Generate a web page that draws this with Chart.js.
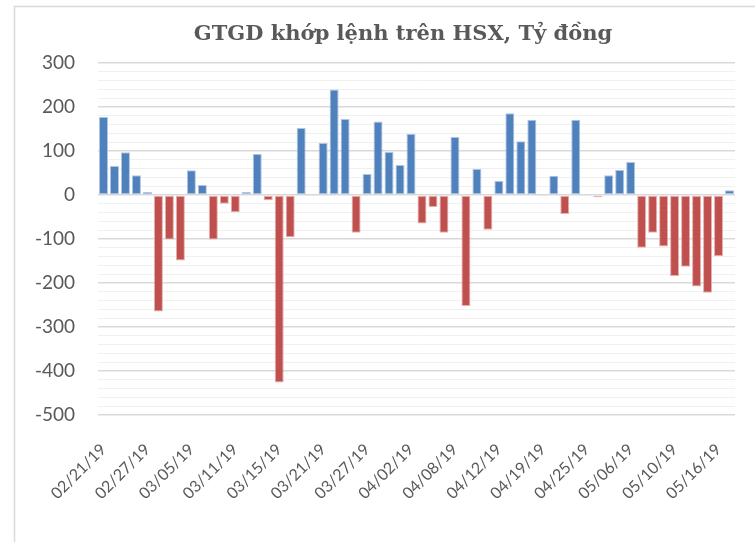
<!DOCTYPE html>
<html>
<head>
<meta charset="utf-8">
<script src="https://cdn.jsdelivr.net/npm/chart.js@4.4.1/dist/chart.umd.min.js"></script>
<style>
    html, body { margin: 0; padding: 0; background: #fff; }
    #wrap { width: 755px; height: 542px; position: relative; }
</style>
</head>
<body>
<div id="wrap"><canvas id="hsxChart" width="755" height="542"></canvas></div>
<script>
// Trading days shown on the x axis (every 4th one gets a label)
const dates = [
    '02/21/19', '02/22/19', '02/25/19', '02/26/19', '02/27/19', '02/28/19', '03/01/19', '03/04/19',
    '03/05/19', '03/06/19', '03/07/19', '03/08/19', '03/11/19', '03/12/19', '03/13/19', '03/14/19',
    '03/15/19', '03/18/19', '03/19/19', '03/20/19', '03/21/19', '03/22/19', '03/25/19', '03/26/19',
    '03/27/19', '03/28/19', '03/29/19', '04/01/19', '04/02/19', '04/03/19', '04/04/19', '04/05/19',
    '04/08/19', '04/09/19', '04/10/19', '04/11/19', '04/12/19', '04/16/19', '04/17/19', '04/18/19',
    '04/19/19', '04/22/19', '04/23/19', '04/24/19', '04/25/19', '04/26/19', '05/02/19', '05/03/19',
    '05/06/19', '05/07/19', '05/08/19', '05/09/19', '05/10/19', '05/13/19', '05/14/19', '05/15/19',
    '05/16/19', '05/17/19'
];

// Net matched value, billion VND
const netValues = [
    177, 66, 97, 45, 7, -265, -101, -149,
    56, 23, -101, -20, -39, 7, 93, -12,
    -426, -96, 152, -2, 118, 240, 173, -86,
    48, 167, 98, 68, 139, -65, -27, -86,
    132, -252, 59, -79, 32, 186, 122, 171,
    -2, 44, -43, 171, -2, -5, 45, 57,
    75, -120, -86, -117, -184, -163, -208, -222,
    -139, 11
];

const chartTitle = 'GTGD khớp lệnh trên HSX, Tỷ đồng';
const yMin = -500;
const yMax = 300;

const BLUE = '#4f81bd';
const RED = '#c0504d';
const TEXT = '#595959';

// light frame around the chart + the title (Excel puts it a bit right of centre)
const framePlugin = {
    id: 'frame',
    beforeDraw(chart) {
        const ctx = chart.ctx;
        ctx.save();
        ctx.strokeStyle = '#d9d9d9';
        ctx.lineWidth = 1.5;
        ctx.strokeRect(14.5, 6.5, 900, 700);
        ctx.fillStyle = TEXT;
        ctx.font = 'bold 21px "DejaVu Serif"';
        ctx.textAlign = 'center';
        ctx.textBaseline = 'alphabetic';
        ctx.fillText(chartTitle, 403, 40);
        ctx.restore();
    }
};

const ctx = document.getElementById('hsxChart').getContext('2d');
new Chart(ctx, {
    type: 'bar',
    data: {
        labels: dates,
        datasets: [{
            data: netValues,
            backgroundColor: netValues.map(v => v >= 0 ? BLUE : RED),
            borderColor: netValues.map(v => v >= 0 ? 'rgba(167,191,222,0.9)' : 'rgba(224,168,166,0.9)'),
            borderWidth: 1,
            borderSkipped: false,
            categoryPercentage: 1,
            barPercentage: 0.82
        }]
    },
    options: {
        responsive: false,
        animation: false,
        layout: {
            padding: { left: 14, right: 20, top: 63, bottom: 0 }
        },
        scales: {
            x: {
                grid: { display: false },
                border: { display: false },
                afterFit: scale => {
                    scale.height = 127;
                    // labels end at the tick, so no extra room needed on the sides
                    scale.paddingRight = 0;
                    scale.paddingLeft = 0;
                },
                ticks: {
                    autoSkip: false,
                    maxRotation: 45,
                    minRotation: 45,
                    padding: 17,
                    color: TEXT,
                    font: { family: 'Lato', size: 16 },
                    callback: function (value, index) {
                        return index % 4 === 0 ? dates[index] : '';
                    }
                }
            },
            y: {
                min: yMin,
                max: yMax,
                afterFit: scale => { scale.width = 84; },
                border: { display: false },
                grid: {
                    drawTicks: false,
                    color: c => c.tick.value % 100 === 0 ? '#d9d9d9' : '#f0f0f0',
                    lineWidth: c => c.tick.value % 100 === 0 ? 1.5 : 1
                },
                ticks: {
                    stepSize: 20,
                    maxTicksLimit: 100,
                    autoSkip: false,
                    padding: 23,
                    color: TEXT,
                    font: { family: 'Lato', size: 19 },
                    callback: v => v % 100 === 0 ? v : ''
                }
            }
        },
        plugins: {
            legend: { display: false },
            tooltip: { enabled: false },
            title: { display: false }
        }
    },
    plugins: [framePlugin]
});
</script>
</body>
</html>
